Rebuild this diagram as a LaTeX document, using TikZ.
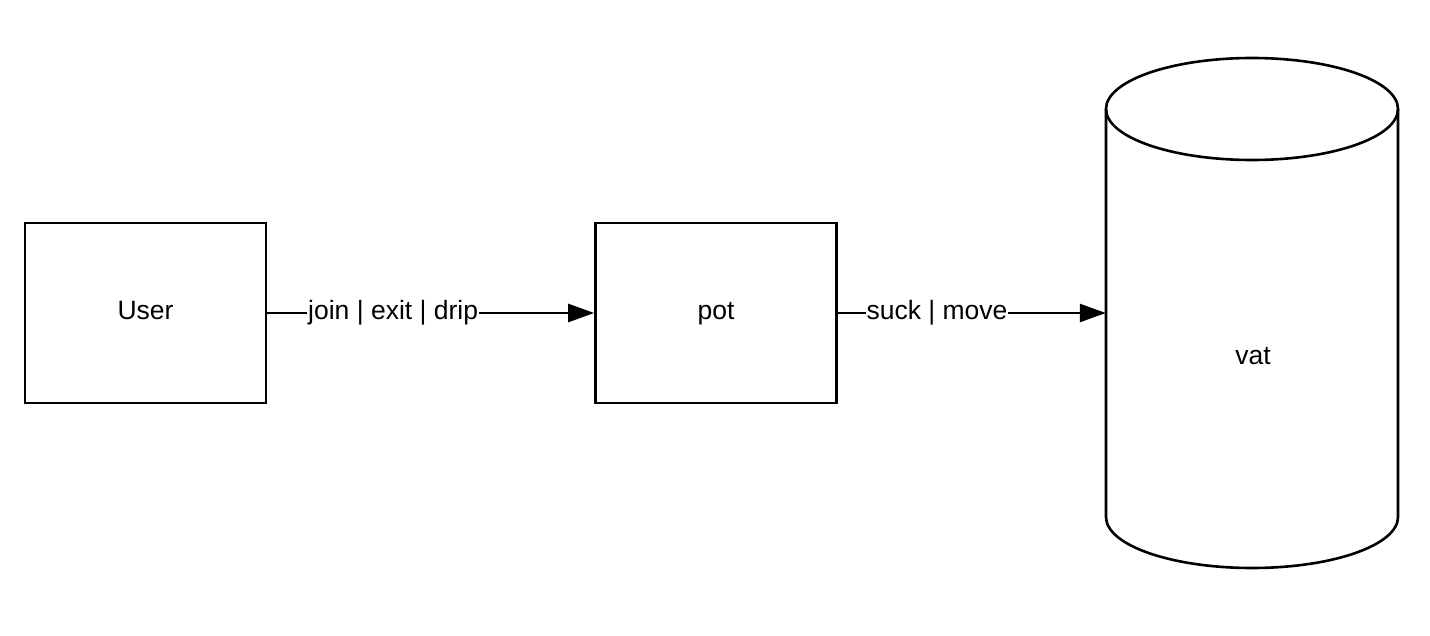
\documentclass[tikz,border=0pt]{standalone}
\usepackage{fontspec}
\setmainfont{Liberation Sans}
\usetikzlibrary{arrows.meta}
\begin{document}
\begin{tikzpicture}[x=1pt,y=-1pt,
  every node/.style={font=\fontsize{26.5}{32}\selectfont,text height=19pt,text depth=6pt},
  box/.style={draw,line width=2.6pt,minimum width=241pt,minimum height=180pt,inner sep=0pt},
  conn/.style={line width=2.6pt,-{Triangle[length=26pt,width=18pt]}},
  lbl/.style={fill=white,inner sep=1pt}]
\useasboundingbox[fill=white] (0,0) rectangle (1430,636);
\node[box] (user) at (145.5,313) {User};
\node[box] (pot) at (716,313) {pot};
\node[minimum width=292pt,minimum height=510pt,inner sep=0pt] (vat) at (1252,313) {};
\node[inner sep=0pt] (vatlabel) at (1253,358) {vat};
\draw[line width=2.6pt] (1252,109) ellipse [x radius=146pt, y radius=51pt];
\draw[line width=2.6pt,line join=round] (1106,109) -- (1106,517) arc[start angle=180,end angle=360,x radius=146pt,y radius=51pt] -- (1398,109);
\draw[conn] (user.east) -- node[lbl,pos=0.385] {join | exit | drip} (pot.west);
\draw[conn] (pot.east) -- node[lbl,pos=0.37] {suck | move} (vat.west);
\end{tikzpicture}
\end{document}
